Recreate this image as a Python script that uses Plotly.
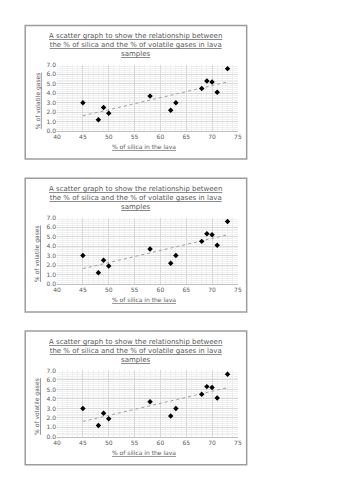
import numpy as np
import plotly.graph_objects as go

# Data
silica = [45, 48, 49, 50, 58, 62, 63, 68, 69, 70, 71, 73]
volatile = [3.0, 1.2, 2.5, 1.9, 3.7, 2.2, 3.0, 4.5, 5.3, 5.2, 4.1, 6.6]
x_ticks = [40, 45, 50, 55, 60, 65, 70, 75]
y_ticks = [0, 1, 2, 3, 4, 5, 6, 7]
title_text = ("<u>A scatter graph to show the relationship between</u><br>"
              "<u>the % of silica and the % of volatile gases in lava</u><br>"
              "<u>samples</u>")
x_title = "<u>% of silica in the lava</u>"
y_title = "<u>% of volatile gases</u>"

W, H = 353, 500
offsets = [0, 155, 310]

# Linear trendline
slope, intercept = np.polyfit(silica, volatile, 1)
tx = [min(silica), max(silica)]
ty = [slope * v + intercept for v in tx]

FONT = "DejaVu Sans"
TXT = "#595959"

fig = go.Figure()
layout = dict(width=W, height=H, margin=dict(l=0, r=0, t=0, b=0),
              paper_bgcolor="white", plot_bgcolor="white", showlegend=False,
              font=dict(family=FONT, color=TXT))
shapes = []
annotations = []


def px(x):
    return x / W


def py(y):
    return 1 - y / H


for i, off in enumerate(offsets):
    n = "" if i == 0 else str(i + 1)
    xa = "x" + n
    ya = "y" + n
    fig.add_trace(go.Scatter(x=tx, y=ty, mode="lines", xaxis=xa, yaxis=ya,
                             line=dict(color="#a0a0a0", width=1, dash="dot"),
                             hoverinfo="skip"))
    fig.add_trace(go.Scatter(x=silica, y=volatile, mode="markers", xaxis=xa, yaxis=ya,
                             marker=dict(symbol="diamond", size=4.2, color="black")))
    common = dict(showgrid=True, gridcolor="#d9d9d9", gridwidth=0.7,
                  zeroline=False, ticks="", tickfont=dict(family=FONT, size=6, color=TXT))
    layout["xaxis" + n] = dict(domain=[px(54.3), px(239.3)], anchor=ya,
                               range=[40, 75], tickvals=x_ticks,
                               ticktext=[str(v) for v in x_ticks],
                               minor=dict(dtick=1, showgrid=True, gridcolor="#efefef", gridwidth=0.5),
                               showline=True, linecolor="#bfbfbf", linewidth=0.8,
                               **common)
    layout["yaxis" + n] = dict(domain=[py(129 + off), py(61.7 + off)], anchor=xa,
                               range=[0, 7], tickvals=y_ticks,
                               ticktext=["%.1f" % v for v in y_ticks],
                               minor=dict(dtick=0.2, showgrid=True, gridcolor="#efefef", gridwidth=0.5),
                               showline=False, **common)
    shapes.append(dict(type="rect", xref="paper", yref="paper",
                       x0=px(21.7), x1=px(248.3), y0=py(157.3 + off), y1=py(21.7 + off),
                       line=dict(color="#9d9d9d", width=1.5), fillcolor="rgba(0,0,0,0)"))
    annotations.append(dict(text=title_text, xref="paper", yref="paper",
                            x=px(135), y=py(41.5 + off), xanchor="center", yanchor="middle",
                            showarrow=False, align="center",
                            font=dict(family=FONT, size=7, color=TXT)))
    annotations.append(dict(text=x_title, xref="paper", yref="paper",
                            x=px(143.7), y=py(145 + off), xanchor="center", yanchor="middle",
                            showarrow=False, font=dict(family=FONT, size=6, color=TXT)))
    annotations.append(dict(text=y_title, xref="paper", yref="paper",
                            x=px(34.3), y=py(98 + off), xanchor="center", yanchor="middle",
                            textangle=-90, showarrow=False,
                            font=dict(family=FONT, size=6, color=TXT)))

layout["shapes"] = shapes
layout["annotations"] = annotations
fig.update_layout(**layout)
fig.write_html("out.html")
